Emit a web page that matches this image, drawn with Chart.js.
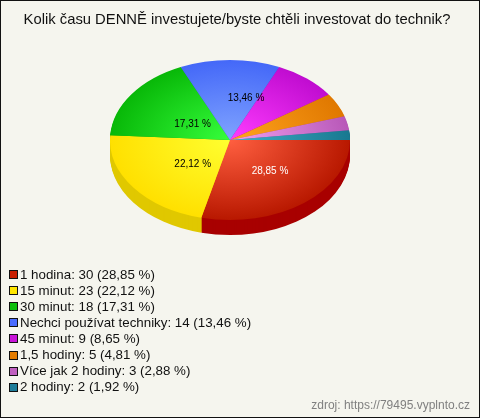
<!DOCTYPE html>
<html>
<head>
<meta charset="utf-8">
<style>
  html, body { margin: 0; padding: 0; background: #f5f5ee; }
  canvas { display: block; }
</style>
<script src="https://cdn.jsdelivr.net/npm/chart.js@4"></script>
</head>
<body>
<canvas id="chart" width="480" height="418"></canvas>
<script>
const titleText = 'Kolik času DENNĚ investujete/byste chtěli investovat do technik?';
const sourceText = 'zdroj: https://79495.vyplnto.cz';
const categories = ['1 hodina', '15 minut', '30 minut', 'Nechci používat techniky', '45 minut', '1,5 hodiny', 'Více jak 2 hodiny', '2 hodiny'];
const answers = [30, 23, 18, 14, 9, 5, 3, 2];
const percents = ['28,85', '22,12', '17,31', '13,46', '8,65', '4,81', '2,88', '1,92'];

// colours of each slice: centre of the gradient, rim of the gradient, side wall
const innerColors = ['#ff5f40', '#ffff30', '#36ff3c', '#80a4ff', '#ff3cff', '#ffa41e', '#f0a0f0', '#40b0c8'];
const outerColors = ['#b81800', '#ffe000', '#08b808', '#4468f8', '#c00cd0', '#e07800', '#b858b8', '#187890'];
const sideColors = ['#a80000', '#e0c800', '#08a008', '#3050d0', '#a000b0', '#c06000', '#a04aa0', '#106070'];
const legendColors = ['#c81e00', '#ffe600', '#0cbe0c', '#4a6cff', '#c814d8', '#e67d00', '#c060c0', '#1e7d9a'];

// the pie is a flat circle for Chart.js, we squash it here to look 3D
const pieY = 140;
const squash = 2 / 3;
const depth = 15;

// nudges for the percent labels, only the bigger slices have one
const labelNudge = [[3, 0], [11, 1], [12, 7], [16, -2]];
const labelColors = ['#ffffff', '#000000', '#000000', '#000000'];

function tilt(ctx, arc) {
  ctx.translate(arc.x, pieY);
  ctx.scale(1, squash);
  ctx.translate(-arc.x, -arc.y);
}

const pie3d = {
  id: 'pie3d',
  beforeDraw(chart) {
    const ctx = chart.ctx;
    ctx.save();
    ctx.fillStyle = '#f5f5ee';
    ctx.fillRect(0, 0, chart.width, chart.height);
    ctx.strokeStyle = '#111111';
    ctx.lineWidth = 1;
    ctx.strokeRect(0.5, 0.5, chart.width - 1, chart.height - 1);
    ctx.restore();
  },
  beforeDatasetsDraw(chart) {
    const ctx = chart.ctx;
    const arcs = chart.getDatasetMeta(0).data;
    ctx.save();
    // side wall first, the tops get painted over it
    for (let d = depth; d > 0; d--) {
      arcs.forEach((arc, i) => {
        ctx.save();
        ctx.translate(0, d);
        tilt(ctx, arc);
        ctx.fillStyle = sideColors[i];
        ctx.beginPath();
        ctx.moveTo(arc.x, arc.y);
        ctx.arc(arc.x, arc.y, arc.outerRadius, arc.startAngle, arc.endAngle);
        ctx.closePath();
        ctx.fill();
        ctx.restore();
      });
    }
    tilt(ctx, arcs[0]);
  },
  afterDatasetsDraw(chart) {
    const ctx = chart.ctx;
    ctx.restore();
    const arcs = chart.getDatasetMeta(0).data;

    ctx.save();
    ctx.textBaseline = 'middle';

    ctx.font = '14.8px "Liberation Sans"';
    ctx.textAlign = 'center';
    ctx.fillStyle = '#111111';
    ctx.fillText(titleText, 237, 20);

    ctx.font = '10px "Liberation Sans"';
    labelNudge.forEach((nudge, i) => {
      const arc = arcs[i];
      const mid = (arc.startAngle + arc.endAngle) / 2;
      const x = arc.x + Math.cos(mid) * arc.outerRadius * 0.5 + nudge[0];
      const y = pieY + Math.sin(mid) * arc.outerRadius * squash * 0.5 + nudge[1];
      ctx.fillStyle = labelColors[i];
      ctx.fillText(percents[i] + ' %', x, y);
    });

    // legend list under the pie
    ctx.font = '13.33px "Liberation Sans"';
    ctx.textAlign = 'left';
    categories.forEach((name, i) => {
      const y = 274 + i * 16.1;
      ctx.fillStyle = legendColors[i];
      ctx.fillRect(9.5, Math.round(y) - 3.5, 8, 8);
      ctx.strokeStyle = '#111111';
      ctx.strokeRect(9.5, Math.round(y) - 3.5, 8, 8);
      ctx.fillStyle = '#111111';
      ctx.fillText(`${name}: ${answers[i]} (${percents[i]} %)`, 20, y + 1);
    });

    ctx.font = '12px "Liberation Sans"';
    ctx.textAlign = 'right';
    ctx.fillStyle = '#808080';
    ctx.fillText(sourceText, 470, 406);
    ctx.restore();
  }
};

new Chart(document.getElementById('chart'), {
  type: 'pie',
  data: {
    labels: categories,
    datasets: [{
      data: answers,
      borderWidth: 0,
      backgroundColor(context) {
        const area = context.chart.chartArea;
        if (!area) return outerColors[context.dataIndex];
        const x = (area.left + area.right) / 2;
        const y = (area.top + area.bottom) / 2;
        const g = context.chart.ctx.createRadialGradient(x, y, 0, x, y, 120);
        g.addColorStop(0, innerColors[context.dataIndex]);
        g.addColorStop(1, outerColors[context.dataIndex]);
        return g;
      }
    }]
  },
  options: {
    responsive: false,
    animation: false,
    rotation: 90,
    events: [],
    layout: { padding: { left: 110, right: 130, top: 20, bottom: 158 } },
    plugins: {
      legend: { display: false },
      tooltip: { enabled: false },
      title: { display: false }
    }
  },
  plugins: [pie3d]
});
</script>
</body>
</html>
